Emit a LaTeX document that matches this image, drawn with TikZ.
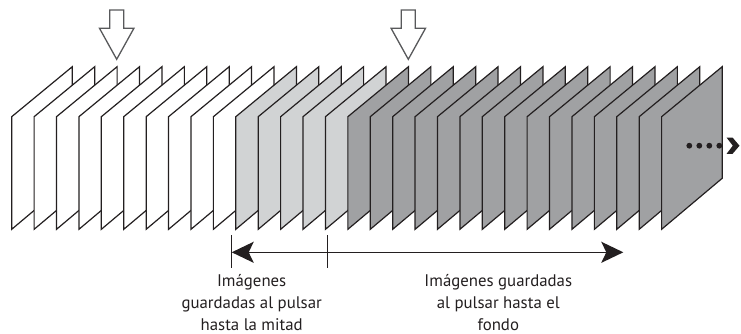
\documentclass[tikz,border=0pt]{standalone}
\usepackage{fontspec}
\setmainfont{PT Sans}
\usetikzlibrary{arrows.meta}
\definecolor{ink}{HTML}{231F20}
\definecolor{arrowgray}{HTML}{58595B}
\definecolor{lightframe}{HTML}{D1D3D4}
\definecolor{darkframe}{HTML}{A0A1A3}
\tikzset{
	frame/.style={draw=ink, line width=1.2pt, line join=miter},
	pointer/.style={draw=arrowgray, line width=1.3pt, fill=white, line join=miter},
	tick/.style={draw=ink, line width=1.2pt},
	span/.style={draw=ink, line width=1.5pt, {Stealth[length=22pt,width=21pt,inset=5pt]}-{Stealth[length=22pt,width=21pt,inset=5pt]}},
	caption/.style={font=\fontsize{16.8}{22}\selectfont, text=ink, align=center, inner sep=0pt, anchor=north},
}
\begin{document}
\begin{tikzpicture}[x=1pt, y=-1pt]
	\useasboundingbox (0,0) rectangle (741,334);
	% frames, back to front
	\foreach \i in {0,...,29} {
		\pgfmathsetmacro\fx{11.7+22.41*\i}
		\ifnum\i<10 \def\tone{white}\else\ifnum\i<15 \def\tone{lightframe}\else\def\tone{darkframe}\fi\fi
		\draw[frame, fill=\tone] (\fx,229.3) -- (\fx,116.7) -- ++(60.6,-50) -- ++(0,111.6) -- cycle;
	}
	% press markers
	\draw[pointer] (116.7,59.3) -- ++(-17.2,-31) -- ++(10.2,0) -- ++(0,-18.3) -- ++(14,0) -- ++(0,18.3) -- ++(10.2,0) -- cycle;
	\draw[pointer] (408.3,59.3) -- ++(-17.2,-31) -- ++(10.2,0) -- ++(0,-18.3) -- ++(14,0) -- ++(0,18.3) -- ++(10.2,0) -- cycle;
	% continues
	\foreach \d in {0,...,3}
		\fill[ink] (689.3+10*\d,145.7) circle (2.9pt);
	\fill[ink] (726.5,137.5) -- (732.5,137.5) -- (739.5,145.7) -- (732.5,153.9) -- (726.5,153.9) -- (732.8,145.7) -- cycle;
	% span of saved images
	\coordinate (halfstart) at (231.7,252.3);
	\coordinate (fullstart) at (327.7,252.3);
	\coordinate (spanend) at (623.3,252.3);
	\draw[tick] ([yshift=-15.6pt]halfstart) -- ([yshift=17pt]halfstart);
	\draw[tick] ([yshift=-15.6pt]fullstart) -- ([yshift=17pt]fullstart);
	\draw[span] (halfstart) -- (spanend);
	\node[caption] (halfnote) at (251.7,274.5) {Imágenes\\guardadas al pulsar\\hasta la mitad};
	\node[caption] (fullnote) at (498.3,274.5) {Imágenes guardadas\\al pulsar hasta el\\fondo};
\end{tikzpicture}
\end{document}
